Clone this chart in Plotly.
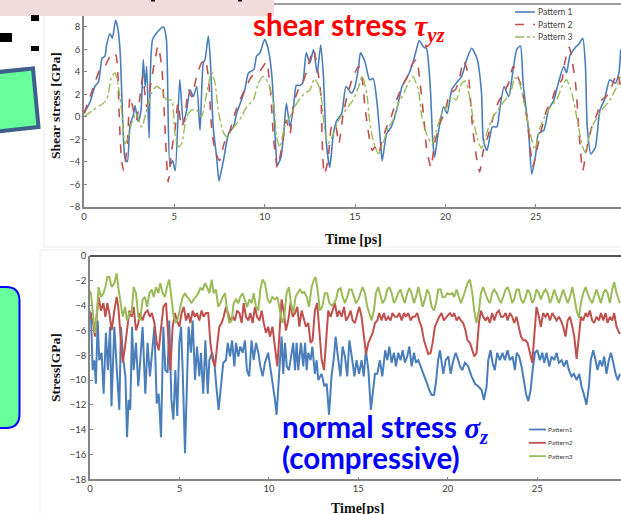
import plotly.graph_objects as go

W, H = 621, 514

# ---------------- data ----------------
time_ticks = [0, 5, 10, 15, 20, 25, 30]
shear_ticks = [-8, -6, -4, -2, 0, 2, 4, 6, 8]
normal_ticks = [-18, -16, -14, -12, -10, -8, -6, -4, -2, 0]
series_names = ["Pattern 1", "Pattern 2", "Pattern 3"]
series_names_b = ["Pattern1", "Pattern2", "Pattern3"]

# shear stress tau_yz (time [ps], GPa)
shear_p1 = [(0,0.3),(0.33,1.3),(0.6,2.7),(0.8,3.1),(1.0,5.2),(1.16,5.4),(1.25,6.4),(1.44,7.4),(1.57,7.0),(1.75,8.6),(1.86,8.0),(2.0,5.8),(2.1,1.6),(2.27,-3.7),(2.4,-4.0),(2.55,-0.7),(2.73,0.15),(2.82,1.0),(3.0,-0.4),(3.15,0.5),(3.28,5.1),(3.38,2.7),(3.47,4.5),(3.6,-1.9),(3.8,6.9),(4.2,7.8),(4.4,8.0),(4.56,6.9),(4.76,-4.3),(4.9,-3.9),(5.05,-4.8),(5.3,3.3),(5.5,-0.6),(5.68,0.6),(5.87,2.4),(6.05,1.8),(6.24,2.7),(6.42,-1.2),(6.6,4.8),(6.7,5.1),(6.88,7.2),(7.0,4.8),(7.15,-0.9),(7.34,-3.6),(7.47,-5.7),(7.6,-4.8),(7.75,-3.6),(8.0,-1.5),(8.27,-0.9),(8.45,0.3),(8.65,1.2),(8.9,2.4),(9.1,3.9),(9.4,4.2),(9.55,5.4),(9.74,5.7),(10.0,6.9),(10.2,6.0),(10.4,3.6),(10.6,-2.4),(10.7,-4.3),(10.9,-3.6),(11.05,-1.5),(11.2,1.2),(11.4,-0.9),(11.6,0.9),(11.75,2.8),(11.95,2.8),(12.1,3.0),(12.3,5.7),(12.5,4.8),(12.7,6.0),(12.9,3.9),(13.1,6.4),(13.25,3.6),(13.4,-2.1),(13.6,-4.5),(13.8,-1.5),(14.0,-0.3),(14.26,0.3),(14.5,2.7),(14.8,2.1),(15.0,2.7),(15.2,4.5),(15.3,5.7),(15.55,4.9),(15.8,3.3),(16.0,3.4),(16.2,1.5),(16.4,-2.1),(16.5,-3.9),(16.75,-1.5),(17.0,-0.9),(17.3,0.6),(17.6,2.7),(17.8,3.3),(18.0,3.9),(18.25,5.1),(18.4,6.0),(18.55,6.8),(18.8,6.2),(18.95,6.1),(19.15,3.0),(19.3,-2.1),(19.4,-3.6),(19.6,-1.5),(19.9,0.9),(20.1,0.3),(20.35,2.4),(20.6,3.0),(20.9,3.6),(21.2,5.2),(21.45,6.1),(21.75,5.2),(22.0,2.1),(22.1,-2.1),(22.3,-3.0),(22.6,-0.9),(22.85,-0.9),(23.0,0.6),(23.25,2.7),(23.5,1.8),(23.75,4.2),(23.95,6.0),(24.15,6.3),(24.3,3.0),(24.6,-1.2),(24.78,-5.1),(25.0,-3.3),(25.15,-1.5),(25.45,-1.2),(25.7,0.6),(26.0,1.5),(26.25,3.0),(26.55,4.5),(26.7,3.9),(26.9,5.5),(27.2,6.2),(27.4,6.5),(27.6,7.0),(27.75,4.5),(27.85,-0.9),(28.05,-3.3),(28.3,-2.7),(28.55,0.6),(28.8,1.5),(29.1,3.3),(29.4,3.0),(29.6,3.9),(29.7,6.0)]
shear_p2 = [(0,0.3),(0.33,1.8),(0.6,3.0),(0.88,4.2),(1.16,4.5),(1.44,5.4),(1.72,5.7),(1.84,4.8),(1.95,0.0),(2.08,-3.9),(2.2,-4.8),(2.4,-2.4),(2.55,1.8),(2.73,0.6),(2.9,-0.3),(3.1,1.8),(3.25,3.6),(3.47,0.9),(3.7,3.0),(3.93,5.1),(4.1,6.3),(4.3,4.5),(4.48,-0.9),(4.66,-5.8),(4.85,-3.0),(5.03,-1.2),(5.2,1.2),(5.4,-0.9),(5.59,0.0),(5.77,2.4),(5.96,1.8),(6.23,3.6),(6.5,4.8),(6.7,5.1),(6.88,3.6),(7.06,-0.9),(7.25,-3.0),(7.5,-3.9),(7.75,-2.4),(8.08,-1.2),(8.35,0.3),(8.63,1.5),(8.9,2.4),(9.28,3.6),(9.65,3.9),(9.92,4.5),(10.1,4.9),(10.33,2.1),(10.5,-2.1),(10.7,-4.5),(10.95,-2.7),(11.2,-0.3),(11.4,-1.5),(11.6,1.2),(11.86,2.4),(12.1,3.0),(12.4,4.5),(12.7,6.0),(12.9,4.5),(13.1,2.1),(13.2,-3.0),(13.3,-5.1),(13.5,-3.9),(13.7,-0.9),(13.9,-0.6),(14.1,-2.4),(14.35,0.3),(14.6,2.1),(14.9,3.6),(15.2,4.5),(15.4,3.3),(15.55,0.9),(15.75,-1.5),(15.95,-3.0),(16.1,-2.7),(16.3,-3.3),(16.5,-2.1),(16.75,-0.9),(17.0,0.0),(17.3,1.5),(17.6,2.7),(17.9,3.6),(18.1,4.5),(18.4,5.1),(18.6,3.0),(18.8,0.0),(18.95,-2.7),(19.2,-4.5),(19.4,-2.4),(19.7,-0.6),(20.0,0.6),(20.25,2.1),(20.55,2.4),(20.8,3.6),(21.0,5.0),(21.2,4.2),(21.3,3.3),(21.5,-0.9),(21.75,-3.9),(21.9,-4.9),(22.1,-3.0),(22.4,-1.5),(22.65,0.0),(22.9,1.2),(23.2,2.1),(23.5,3.0),(23.75,4.5),(24.0,3.6),(24.2,2.7),(24.5,0.0),(24.85,-4.4),(25.05,-3.0),(25.35,-0.9),(25.6,0.6),(25.9,1.5),(26.15,2.7),(26.45,3.3),(26.6,4.8),(26.85,6.2),(27.2,3.0),(27.4,-1.5),(27.6,-4.8),(27.8,-3.0),(28.1,-0.9),(28.4,0.3),(28.65,1.5),(28.9,1.8),(29.2,2.7),(29.5,3.9),(29.7,2.7)]
shear_p3 = [(0,0.0),(0.5,0.6),(0.88,1.0),(1.25,1.5),(1.53,3.6),(1.72,3.9),(1.9,2.7),(2.08,0.6),(2.27,-2.4),(2.45,-1.8),(2.63,-0.6),(2.9,0.3),(3.19,-0.9),(3.47,0.6),(3.74,2.1),(4.0,2.7),(4.3,2.4),(4.57,1.5),(4.85,1.5),(5.03,-1.5),(5.22,-2.7),(5.4,-2.4),(5.68,0.0),(5.96,0.6),(6.23,0.6),(6.5,0.0),(6.79,2.1),(7.06,4.0),(7.25,3.0),(7.43,0.6),(7.67,-1.2),(7.9,-1.8),(8.17,-1.2),(8.45,-0.6),(8.72,0.0),(9.0,0.9),(9.37,1.5),(9.65,3.0),(9.92,3.6),(10.2,3.0),(10.5,1.2),(10.66,-1.8),(10.84,-2.7),(11.1,-0.9),(11.4,0.0),(11.77,1.2),(12.1,1.9),(12.5,2.4),(12.75,3.4),(13.0,2.7),(13.15,1.5),(13.3,-0.9),(13.5,-2.4),(13.8,-1.5),(14.1,-0.3),(14.35,0.3),(14.6,0.9),(14.9,1.5),(15.2,2.7),(15.4,3.6),(15.65,2.1),(15.8,-0.3),(16.0,-2.1),(16.3,-3.3),(16.6,-2.1),(16.85,-0.9),(17.1,-0.3),(17.4,1.2),(17.7,2.1),(17.95,3.0),(18.2,3.6),(18.5,2.4),(18.7,0.0),(18.95,-1.5),(19.25,-2.4),(19.5,-1.2),(19.8,0.3),(20.1,0.9),(20.35,1.8),(20.6,1.5),(20.9,3.0),(21.1,3.2),(21.3,2.1),(21.55,-0.3),(21.8,-2.1),(22.0,-2.8),(22.4,-0.9),(22.65,0.0),(22.9,0.6),(23.3,1.5),(23.6,2.1),(23.85,3.5),(24.1,3.0),(24.4,0.9),(24.7,-1.5),(24.95,-2.9),(25.25,-0.9),(25.5,0.0),(25.8,0.9),(26.15,1.5),(26.45,2.7),(26.7,3.3),(27.0,2.1),(27.3,-0.3),(27.55,-2.4),(27.75,-3.2),(27.9,-2.1),(28.2,-0.6),(28.55,0.3),(28.8,0.9),(29.1,1.5),(29.4,2.4),(29.7,3.6)]

# normal stress sigma_z (time [ps], GPa)
normal_p1 = [(0.0,-4.5),(0.05,-4.6),(0.15,-9.2),(0.24,-8.4),(0.33,-10.3),(0.43,-5.2),(0.52,-8.4),(0.65,-7.8),(0.76,-11.1),(0.89,-6.2),(1.0,-9.2),(1.12,-5.7),(1.2,-12.1),(1.36,-5.7),(1.5,-9.2),(1.64,-12.4),(1.73,-5.7),(1.86,-8.4),(1.98,-9.7),(2.07,-14.6),(2.16,-11.6),(2.25,-12.4),(2.35,-5.7),(2.44,-9.2),(2.57,-7.0),(2.7,-10.5),(2.81,-8.4),(2.94,-5.7),(3.09,-11.1),(3.22,-7.0),(3.35,-9.7),(3.5,-7.3),(3.6,-5.7),(3.73,-11.9),(3.84,-11.1),(3.97,-14.6),(4.1,-5.7),(4.21,-9.2),(4.34,-9.4),(4.43,-5.2),(4.55,-11.6),(4.66,-13.2),(4.77,-9.2),(4.88,-12.9),(4.99,-7.0),(5.09,-5.7),(5.18,-9.2),(5.31,-15.9),(5.42,-10.5),(5.51,-5.7),(5.64,-7.8),(5.74,-5.2),(5.87,-10.0),(5.98,-7.3),(6.11,-9.7),(6.2,-7.8),(6.33,-11.1),(6.45,-6.8),(6.58,-11.1),(6.67,-8.4),(6.82,-7.8),(6.95,-8.6),(7.08,-10.8),(7.19,-12.4),(7.32,-10.5),(7.45,-8.6),(7.6,-8.4),(7.7,-7.0),(7.83,-8.1),(7.94,-6.8),(8.07,-8.9),(8.16,-7.0),(8.29,-8.1),(8.4,-7.3),(8.53,-7.8),(8.66,-6.8),(8.77,-9.2),(8.9,-9.7),(9.03,-6.8),(9.15,-8.4),(9.28,-7.0),(9.41,-7.8),(9.52,-8.9),(9.65,-9.7),(9.78,-8.6),(9.96,-7.8),(10.1,-9.2),(10.24,-10.5),(10.34,-11.6),(10.43,-12.8),(10.52,-10.3),(10.62,-8.4),(10.71,-6.5),(10.8,-9.5),(10.9,-7.0),(11.0,-8.9),(11.12,-9.2),(11.23,-8.1),(11.36,-7.0),(11.46,-9.2),(11.55,-7.0),(11.64,-9.2),(11.79,-7.0),(11.92,-8.9),(12.02,-7.0),(12.11,-9.2),(12.2,-7.8),(12.33,-8.4),(12.43,-7.3),(12.57,-9.5),(12.67,-8.4),(12.76,-10.0),(12.95,-9.5),(13.1,-10.5),(13.23,-10.3),(13.36,-12.8),(13.5,-9.7),(13.64,-8.1),(13.73,-6.5),(13.88,-8.4),(14.0,-9.7),(14.12,-7.3),(14.25,-8.1),(14.38,-9.7),(14.5,-6.8),(14.66,-8.4),(14.78,-9.7),(14.9,-8.4),(15.04,-9.5),(15.18,-8.4),(15.3,-9.7),(15.42,-7.6),(15.56,-9.2),(15.7,-12.4),(15.8,-11.1),(15.93,-9.5),(16.06,-9.5),(16.2,-8.4),(16.34,-9.7),(16.5,-7.6),(16.62,-8.4),(16.73,-7.3),(16.86,-8.6),(16.99,-7.8),(17.1,-8.9),(17.23,-7.8),(17.36,-8.4),(17.48,-7.6),(17.6,-8.6),(17.73,-8.1),(17.85,-7.3),(17.98,-8.9),(18.11,-7.8),(18.22,-8.6),(18.35,-8.4),(18.48,-8.9),(18.59,-9.2),(18.72,-9.7),(18.85,-10.3),(18.96,-10.8),(19.1,-11.2),(19.23,-11.2),(19.33,-10.3),(19.46,-8.4),(19.56,-7.6),(19.75,-9.5),(19.88,-8.4),(20.03,-8.1),(20.16,-9.5),(20.31,-8.4),(20.44,-7.8),(20.59,-8.4),(20.68,-8.9),(20.81,-9.2),(20.96,-8.6),(21.14,-8.9),(21.33,-9.7),(21.52,-10.3),(21.7,-10.5),(21.89,-10.8),(22.02,-11.6),(22.17,-10.5),(22.26,-8.4),(22.39,-7.6),(22.5,-8.6),(22.63,-9.2),(22.76,-7.8),(22.91,-8.4),(23.06,-7.8),(23.19,-8.4),(23.34,-7.6),(23.47,-8.4),(23.62,-8.1),(23.75,-9.2),(23.85,-7.8),(23.99,-8.1),(24.12,-8.9),(24.25,-10.0),(24.37,-11.1),(24.5,-11.7),(24.63,-10.8),(24.74,-9.2),(24.87,-7.8),(25.0,-7.6),(25.15,-8.4),(25.28,-7.8),(25.39,-8.6),(25.52,-7.8),(25.67,-8.9),(25.8,-8.1),(25.95,-8.4),(26.08,-7.8),(26.21,-8.6),(26.36,-8.4),(26.49,-8.9),(26.64,-8.4),(26.77,-9.2),(26.92,-9.7),(27.05,-9.5),(27.2,-10.0),(27.35,-9.5),(27.47,-10.5),(27.6,-11.1),(27.75,-12.0),(27.89,-10.5),(27.99,-8.4),(28.13,-7.6),(28.26,-8.4),(28.37,-9.2),(28.5,-8.4),(28.63,-8.9),(28.74,-8.1),(28.87,-9.5),(29.0,-8.4),(29.12,-7.8),(29.25,-8.6),(29.38,-9.5),(29.5,-10.0),(29.62,-9.5)]
normal_p2 = [(0.0,-4.5),(0.05,-4.9),(0.16,-5.2),(0.28,-6.5),(0.39,-4.6),(0.48,-3.3),(0.61,-4.4),(0.75,-3.8),(0.86,-4.9),(0.97,-3.8),(1.08,-4.6),(1.21,-6.0),(1.36,-4.4),(1.49,-3.3),(1.58,-4.1),(1.69,-6.2),(1.83,-8.6),(1.96,-7.3),(2.07,-5.7),(2.2,-4.4),(2.33,-4.9),(2.44,-4.1),(2.57,-6.0),(2.7,-5.4),(2.81,-4.6),(2.94,-5.2),(3.07,-4.6),(3.22,-4.4),(3.35,-4.9),(3.46,-4.6),(3.6,-5.4),(3.73,-7.0),(3.84,-7.6),(3.97,-6.0),(4.1,-4.1),(4.25,-3.8),(4.38,-6.8),(4.49,-9.2),(4.62,-5.7),(4.75,-4.6),(4.86,-5.2),(5.0,-5.7),(5.12,-4.6),(5.24,-4.1),(5.37,-5.2),(5.5,-4.6),(5.61,-5.4),(5.74,-4.4),(5.87,-4.9),(5.98,-4.6),(6.11,-5.2),(6.24,-4.4),(6.35,-4.9),(6.48,-4.6),(6.61,-4.6),(6.73,-7.0),(6.86,-8.4),(6.99,-8.9),(7.1,-7.3),(7.23,-5.7),(7.36,-5.4),(7.47,-4.9),(7.6,-4.1),(7.73,-4.6),(7.85,-5.2),(7.98,-4.9),(8.1,-5.2),(8.22,-4.4),(8.35,-4.6),(8.48,-5.4),(8.59,-3.8),(8.72,-4.9),(8.85,-5.2),(8.96,-4.6),(9.09,-5.4),(9.22,-4.1),(9.34,-4.9),(9.47,-5.2),(9.6,-4.4),(9.71,-5.4),(9.84,-6.2),(9.96,-5.7),(10.06,-6.5),(10.2,-5.7),(10.34,-7.3),(10.47,-8.9),(10.58,-6.5),(10.71,-3.5),(10.84,-4.6),(10.95,-6.0),(11.08,-5.2),(11.21,-3.8),(11.33,-4.9),(11.46,-4.6),(11.59,-4.1),(11.7,-5.7),(11.83,-4.4),(11.96,-5.2),(12.07,-5.7),(12.2,-5.4),(12.33,-7.0),(12.44,-6.8),(12.57,-4.4),(12.7,-3.8),(12.81,-6.2),(12.95,-8.4),(13.08,-9.2),(13.19,-7.3),(13.32,-4.4),(13.45,-4.9),(13.56,-4.4),(13.69,-3.8),(13.82,-4.9),(13.93,-4.4),(14.07,-4.9),(14.2,-4.1),(14.31,-5.2),(14.44,-4.9),(14.57,-4.4),(14.68,-5.2),(14.81,-5.4),(14.94,-4.6),(15.05,-4.1),(15.18,-4.9),(15.31,-6.5),(15.43,-7.9),(15.56,-7.0),(15.69,-6.5),(15.8,-6.2),(15.93,-5.4),(16.06,-5.2),(16.17,-4.6),(16.3,-5.2),(16.43,-4.6),(16.54,-5.2),(16.67,-4.9),(16.8,-5.2),(16.91,-4.6),(17.05,-4.9),(17.18,-4.9),(17.29,-4.6),(17.42,-5.2),(17.55,-4.6),(17.66,-4.9),(17.79,-4.6),(17.92,-5.2),(18.03,-4.9),(18.16,-4.9),(18.29,-4.6),(18.4,-5.2),(18.53,-5.7),(18.67,-6.8),(18.78,-7.3),(18.91,-7.9),(19.04,-7.8),(19.15,-7.0),(19.28,-5.7),(19.41,-5.2),(19.52,-4.9),(19.65,-4.6),(19.78,-5.2),(19.93,-4.9),(20.12,-4.6),(20.25,-4.9),(20.36,-4.6),(20.49,-5.2),(20.62,-4.9),(20.73,-5.2),(20.86,-5.4),(20.99,-6.0),(21.1,-6.8),(21.24,-7.0),(21.37,-7.6),(21.48,-8.1),(21.61,-7.8),(21.74,-5.4),(21.85,-4.4),(21.98,-4.9),(22.11,-5.2),(22.22,-4.9),(22.35,-5.4),(22.48,-4.6),(22.6,-5.2),(22.73,-4.6),(22.86,-4.4),(22.97,-4.9),(23.1,-4.9),(23.23,-4.6),(23.34,-5.2),(23.47,-4.6),(23.6,-4.9),(23.71,-5.4),(23.84,-4.9),(23.97,-5.7),(24.09,-6.5),(24.22,-6.8),(24.35,-6.8),(24.46,-7.0),(24.59,-7.8),(24.72,-8.6),(24.83,-6.5),(24.96,-4.1),(25.09,-4.9),(25.2,-5.7),(25.33,-4.6),(25.46,-4.9),(25.58,-4.6),(25.71,-5.2),(25.84,-4.6),(25.95,-4.9),(26.08,-5.2),(26.21,-4.9),(26.32,-5.2),(26.45,-5.7),(26.58,-6.5),(26.7,-5.2),(26.83,-4.9),(26.96,-5.7),(27.07,-6.5),(27.2,-8.3),(27.33,-6.5),(27.44,-4.9),(27.57,-5.2),(27.7,-4.6),(27.81,-4.9),(27.94,-4.4),(28.07,-5.2),(28.18,-5.4),(28.31,-4.9),(28.45,-5.2),(28.56,-4.6),(28.69,-5.2),(28.82,-4.6),(28.93,-5.4),(29.06,-4.9),(29.19,-5.2),(29.3,-4.6),(29.43,-5.7),(29.62,-6.3)]
normal_p3 = [(0.0,-2.8),(0.05,-3.0),(0.16,-4.6),(0.28,-6.2),(0.39,-4.4),(0.48,-2.5),(0.61,-3.3),(0.75,-3.0),(0.86,-2.5),(0.97,-1.7),(1.08,-1.7),(1.21,-2.5),(1.36,-2.2),(1.49,-1.4),(1.58,-2.5),(1.7,-3.8),(1.83,-4.9),(1.96,-4.1),(2.07,-5.2),(2.2,-4.6),(2.33,-4.6),(2.44,-2.5),(2.57,-3.0),(2.7,-4.9),(2.81,-5.2),(2.94,-3.5),(3.07,-3.3),(3.19,-4.1),(3.32,-3.0),(3.45,-2.7),(3.56,-3.3),(3.69,-2.5),(3.82,-3.0),(3.93,-2.2),(4.06,-3.0),(4.19,-3.3),(4.3,-2.5),(4.43,-1.9),(4.56,-3.5),(4.68,-4.9),(4.81,-5.4),(4.94,-4.9),(5.05,-4.1),(5.18,-3.3),(5.31,-3.0),(5.42,-3.3),(5.55,-3.5),(5.68,-3.8),(5.79,-3.5),(5.92,-3.3),(6.05,-3.0),(6.17,-2.6),(6.3,-2.7),(6.43,-2.2),(6.54,-2.5),(6.67,-3.0),(6.8,-1.9),(6.91,-3.0),(7.04,-2.7),(7.17,-4.1),(7.29,-3.8),(7.42,-3.3),(7.55,-3.0),(7.66,-4.4),(7.79,-5.4),(7.92,-5.2),(8.03,-3.8),(8.16,-3.5),(8.29,-3.8),(8.4,-3.3),(8.53,-3.0),(8.66,-3.5),(8.78,-4.1),(8.91,-3.5),(9.04,-3.8),(9.15,-3.0),(9.28,-4.1),(9.41,-4.4),(9.52,-2.7),(9.65,-1.9),(9.78,-2.2),(9.93,-3.5),(10.06,-3.8),(10.19,-3.3),(10.34,-3.5),(10.47,-3.3),(10.62,-4.6),(10.75,-5.4),(10.86,-4.9),(10.99,-3.0),(11.12,-2.5),(11.23,-3.8),(11.36,-4.6),(11.49,-3.3),(11.6,-3.0),(11.73,-2.7),(11.87,-3.0),(11.98,-2.9),(12.11,-3.3),(12.24,-4.1),(12.39,-2.5),(12.52,-1.9),(12.61,-1.7),(12.72,-2.7),(12.85,-4.4),(12.98,-4.1),(13.13,-3.0),(13.26,-3.0),(13.38,-3.8),(13.51,-4.0),(13.64,-3.8),(13.75,-3.5),(13.88,-2.7),(14.01,-2.6),(14.12,-3.3),(14.25,-3.8),(14.38,-3.3),(14.49,-2.7),(14.62,-2.7),(14.75,-3.3),(14.87,-3.8),(15.0,-3.5),(15.13,-3.0),(15.24,-2.5),(15.37,-3.0),(15.5,-4.1),(15.61,-4.6),(15.74,-5.2),(15.87,-4.4),(15.98,-3.0),(16.11,-2.5),(16.24,-3.3),(16.35,-3.8),(16.49,-3.5),(16.62,-2.7),(16.73,-2.5),(16.86,-3.0),(16.99,-3.8),(17.1,-3.5),(17.23,-3.0),(17.36,-2.7),(17.47,-3.3),(17.6,-3.8),(17.73,-3.0),(17.85,-2.6),(17.98,-3.0),(18.11,-3.8),(18.22,-3.3),(18.35,-2.5),(18.48,-3.3),(18.59,-4.1),(18.72,-3.5),(18.85,-2.7),(18.96,-3.0),(19.1,-4.1),(19.23,-4.4),(19.34,-3.8),(19.47,-2.7),(19.6,-2.7),(19.71,-3.3),(19.84,-3.3),(19.97,-3.0),(20.12,-3.1),(20.25,-3.0),(20.36,-3.3),(20.49,-2.7),(20.62,-3.3),(20.73,-3.8),(20.86,-3.3),(20.99,-2.7),(21.1,-2.2),(21.24,-1.9),(21.37,-3.0),(21.48,-4.4),(21.6,-5.4),(21.74,-4.4),(21.85,-3.0),(21.98,-2.5),(22.11,-3.0),(22.22,-3.5),(22.35,-3.8),(22.48,-3.0),(22.59,-2.7),(22.73,-3.0),(22.86,-3.5),(22.97,-3.8),(23.1,-3.3),(23.23,-2.7),(23.34,-2.5),(23.47,-3.0),(23.6,-3.8),(23.71,-3.5),(23.84,-2.7),(23.97,-2.7),(24.09,-3.5),(24.22,-3.8),(24.35,-3.3),(24.46,-2.7),(24.59,-3.0),(24.72,-3.8),(24.83,-3.5),(24.96,-2.7),(25.09,-3.0),(25.2,-3.5),(25.33,-3.0),(25.46,-2.7),(25.58,-3.0),(25.71,-3.8),(25.84,-3.3),(25.95,-2.7),(26.08,-3.3),(26.21,-3.8),(26.32,-3.3),(26.45,-2.7),(26.58,-3.3),(26.7,-3.8),(26.83,-3.3),(26.96,-2.5),(27.07,-3.3),(27.2,-4.4),(27.33,-5.0),(27.44,-3.8),(27.57,-3.0),(27.7,-2.5),(27.81,-3.0),(27.94,-3.5),(28.07,-3.8),(28.18,-3.3),(28.31,-2.7),(28.45,-3.3),(28.56,-3.8),(28.69,-3.0),(28.82,-2.7),(28.93,-3.0),(29.06,-3.8),(29.19,-2.7),(29.3,-2.1),(29.43,-3.0),(29.62,-3.8)]

# ---------------- helpers ----------------
def X(p):
    return p / W

def Y(p):
    return 1 - p / H

def path(points, close=True):
    s = "M " + " L ".join(f"{X(a):.5f},{Y(b):.5f}" for a, b in points)
    return s + (" Z" if close else "")

C_BLUE = "#4A7EBB"
C_RED = "#C0504D"
C_GREEN = "#9BBB59"
TICKFONT = dict(family="Lato, Open Sans, sans-serif", size=9.5, color="#404040")
SERIF = "Liberation Serif, DejaVu Serif, serif"

fig = go.Figure()

top_styles = [(C_BLUE, "solid", 1.6), (C_RED, "dash", 1.6), (C_GREEN, "dashdot", 1.4)]
for name, data, (col, dash, w) in zip(series_names, [shear_p1, shear_p2, shear_p3], top_styles):
    t, v = zip(*data)
    fig.add_trace(go.Scatter(x=t, y=v, mode="lines", name=name, xaxis="x", yaxis="y",
                             line=dict(color=col, dash=dash, width=w, shape="spline", smoothing=0.6),
                             showlegend=False))

bot_cols = [C_BLUE, C_RED, C_GREEN]
for name, data, col in zip(series_names_b, [normal_p1, normal_p2, normal_p3], bot_cols):
    t, v = zip(*data)
    fig.add_trace(go.Scatter(x=t, y=v, mode="lines", name=name, xaxis="x2", yaxis="y2",
                             line=dict(color=col, width=2),
                             showlegend=False))

axis_common = dict(showgrid=False, zeroline=False, showline=True, linecolor="#868686",
                   linewidth=1.5, ticks="inside", ticklen=3, tickcolor="#868686",
                   tickfont=TICKFONT, fixedrange=True, automargin=False)

fig.update_layout(
    template="none",
    width=W, height=H,
    margin=dict(l=0, r=0, t=0, b=0, pad=0, autoexpand=False),
    paper_bgcolor="white", plot_bgcolor="rgba(0,0,0,0)",
    showlegend=False,
    xaxis=dict(domain=[X(84), 1], range=[0, (621 - 84) / 18.07], tickvals=time_ticks,
               anchor="y", **axis_common),
    yaxis=dict(domain=[Y(206.7), Y(4.5)], range=[-8, 10], tickvals=shear_ticks,
               anchor="x", **axis_common),
    xaxis2=dict(domain=[X(90), 1], range=[0, (621 - 90) / 17.89], tickvals=time_ticks,
                anchor="y2", **axis_common),
    yaxis2=dict(domain=[Y(479.3), Y(256)], range=[-18, 0], tickvals=normal_ticks,
                anchor="x2", **axis_common),
)

shapes = []
# faint chart-box borders
shapes.append(dict(type="line", xref="paper", yref="paper", x0=X(44), x1=X(44), y0=Y(14), y1=Y(247),
                   line=dict(color="#ECECEC", width=1)))
shapes.append(dict(type="line", xref="paper", yref="paper", x0=X(44), x1=1, y0=Y(247), y1=Y(247),
                   line=dict(color="#ECECEC", width=1)))
shapes.append(dict(type="line", xref="paper", yref="paper", x0=X(40), x1=X(40), y0=Y(250), y1=0,
                   line=dict(color="#ECECEC", width=1)))
shapes.append(dict(type="line", xref="paper", yref="paper", x0=X(40), x1=1, y0=Y(250), y1=Y(250),
                   line=dict(color="#ECECEC", width=1)))
# top frame lines
shapes.append(dict(type="line", xref="paper", yref="paper", x0=X(84), x1=1, y0=Y(4), y1=Y(4),
                   line=dict(color="#3A3A3A", width=1.2)))
shapes.append(dict(type="line", xref="paper", yref="paper", x0=X(90), x1=1, y0=Y(256), y1=Y(256),
                   line=dict(color="#1A1A1A", width=1.5)))
# pink header box
shapes.append(dict(type="rect", xref="paper", yref="paper", x0=0, x1=X(274), y0=Y(16), y1=1,
                   fillcolor="#F2DCDB", line=dict(width=0)))
# black bits (cut-off slide glyphs and marks)
for (a, b, c, d) in [(31, 15, 39, 21), (0, 33, 12, 42), (31, 46, 39, 51), (151, 0, 155, 1.5), (238, 0, 242, 1.5)]:
    shapes.append(dict(type="rect", xref="paper", yref="paper", x0=X(a), x1=X(c), y0=Y(d), y1=Y(b),
                       fillcolor="black", line=dict(width=0)))
# tilted green box
shapes.append(dict(type="path", xref="paper", yref="paper",
                   path=path([(-6, 72.5), (33, 68.5), (38.5, 127), (-6, 132)]),
                   fillcolor="#66FF99", line=dict(color="#3C5F8C", width=4)))
# rounded green box
rb = (f"M {X(-6):.5f},{Y(287):.5f} L {X(6):.5f},{Y(287):.5f} Q {X(19.5):.5f},{Y(287):.5f} {X(19.5):.5f},{Y(301):.5f} "
      f"L {X(19.5):.5f},{Y(414):.5f} Q {X(19.5):.5f},{Y(428):.5f} {X(6):.5f},{Y(428):.5f} L {X(-6):.5f},{Y(428):.5f} Z")
shapes.append(dict(type="path", xref="paper", yref="paper", path=rb,
                   fillcolor="#66FF99", line=dict(color="#0000FF", width=2)))

# legend samples (top)
for i, (col, dash, w) in enumerate(top_styles):
    yy = 12 + i * 12.5
    shapes.append(dict(type="line", xref="paper", yref="paper", x0=X(515), x1=X(535), y0=Y(yy), y1=Y(yy),
                       line=dict(color=col, dash=dash, width=w)))
# legend samples (bottom)
for i, col in enumerate(bot_cols):
    yy = 429.5 + i * 13.3
    shapes.append(dict(type="line", xref="paper", yref="paper", x0=X(529), x1=X(546), y0=Y(yy), y1=Y(yy),
                       line=dict(color=col, width=1.8)))

fig.update_layout(shapes=shapes)

ann = []
def text(x, y, s, size, color="#404040", family="Lato, sans-serif", xanchor="left", yanchor="middle", angle=0):
    ann.append(dict(x=X(x), y=Y(y), xref="paper", yref="paper", text=s, showarrow=False,
                    xanchor=xanchor, yanchor=yanchor, textangle=angle, borderpad=0,
                    font=dict(size=size, color=color, family=family)))

for i, n in enumerate(series_names):
    text(537, 12 + i * 12.5, n, 8.5, color="#404040")
for i, n in enumerate(series_names_b):
    text(547, 429.5 + i * 13.3, n, 6.5, color="#404040")

# axis titles
text(56, 106, "<b>Shear stress [GPa]</b>", 13.5, color="#111111", family=SERIF, xanchor="center", angle=-90)
text(353, 239, "<b>Time [ps]</b>", 14, color="#111111", family=SERIF, xanchor="center")
text(55, 368, "<b>Stress[GPa]</b>", 13.5, color="#111111", family=SERIF, xanchor="center", angle=-90)
text(357, 508, "<b>Time[ps]</b>", 14, color="#111111", family=SERIF, xanchor="center")

# slide labels
GREEK = "font-family:'Liberation Serif'"
text(252, 27, f"<b>shear stress <span style=\"{GREEK}\"><i>τ<sub>yz</sub></i></span></b>", 29.5, color="#FF0000")
text(281, 428, f"<b>normal stress <span style=\"{GREEK}\"><i>σ<sub>z</sub></i></span></b>", 29.5, color="#0000FF")
text(281, 457, "<b>(compressive)</b>", 29.5, color="#0000FF")

fig.update_layout(annotations=ann)

fig.write_html("out.html", config={"displayModeBar": False},
               post_script="document.body.style.margin='0';document.body.style.overflow='hidden';")
